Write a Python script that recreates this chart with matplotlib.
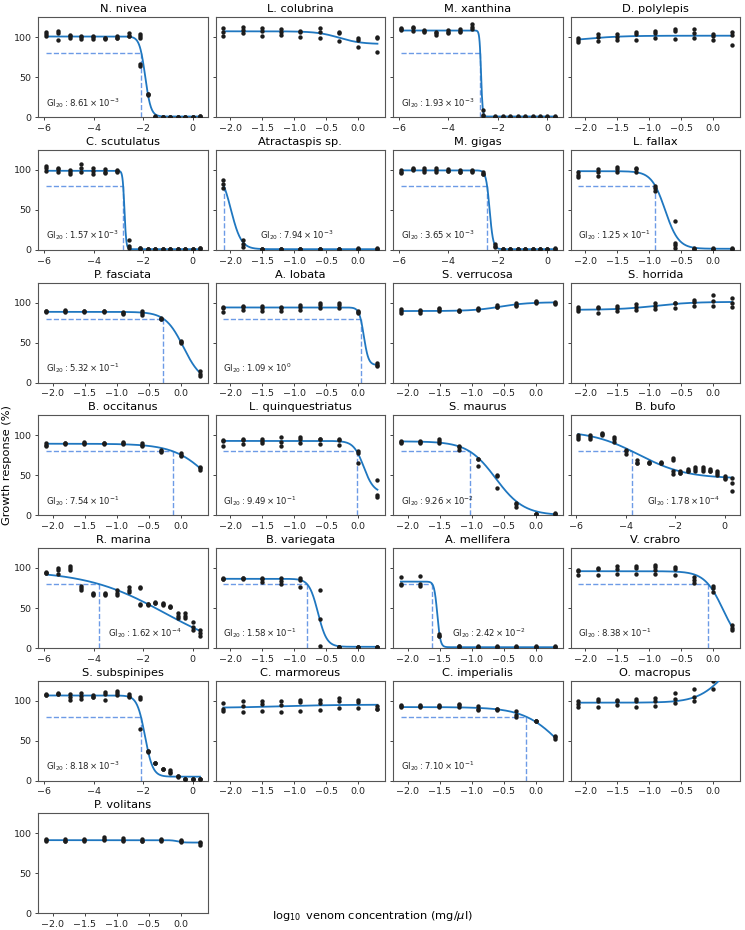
import numpy as np
import matplotlib
matplotlib.use("Agg")
import matplotlib.pyplot as plt
from matplotlib.ticker import MultipleLocator

# ---------------- data ----------------
LONG_X = [-5.923, -5.446, -4.969, -4.492, -4.015, -3.538, -3.061, -2.584,
          -2.107, -1.806, -1.505, -1.204, -0.903, -0.602, -0.301, 0.0, 0.301]
SHORT_X = [-2.107, -1.806, -1.505, -1.204, -0.903, -0.602, -0.301, 0.0, 0.301]

species = ["N. nivea", "L. colubrina", "M. xanthina", "D. polylepis",
           "C. scutulatus", "Atractaspis sp.", "M. gigas", "L. fallax",
           "P. fasciata", "A. lobata", "S. verrucosa", "S. horrida",
           "B. occitanus", "L. quinquestriatus", "S. maurus", "B. bufo",
           "R. marina", "B. variegata", "A. mellifera", "V. crabro",
           "S. subspinipes", "C. marmoreus", "C. imperialis", "O. macropus",
           "P. volitans"]

dose_series = ["long", "short", "long", "short",
               "long", "short", "long", "short",
               "short", "short", "short", "short",
               "short", "short", "short", "long",
               "long", "short", "short", "short",
               "long", "short", "short", "short",
               "short"]

nivea_y = [[106, 104, 102], [108, 105, 96], [103, 101, 99], [101, 100, 98], [102, 100, 98],
           [99, 99, 98], [101, 99, 99], [105, 102, 102], [104, 102, 99, 66, 64], [29, 28, 29],
           [1.5, 1, 1], [1, 1, 1], [1, 1, 1], [1, 1, 1], [1, 1, 1], [1, 1, 1], [2, 1.5, 1]]
colubrina_y = [[112, 106, 101], [113, 109, 105], [112, 108, 102], [110, 107, 103], [108, 107, 100],
               [111, 107, 99], [107, 105, 95], [99, 97, 87.5], [100, 99, 82]]
xanthina_y = [[111, 110, 109], [113, 111, 108], [109, 108, 106], [107, 105, 103], [109, 107, 105],
              [110, 108, 106], [116, 113, 110], [9, 3, 2], [1.5, 1, 1], [1.5, 1, 1], [1.5, 1, 1],
              [1.5, 1, 1], [1.5, 1, 1], [1.5, 1, 1], [1.5, 1, 1], [1.5, 1, 1], [1.5, 1, 1]]
polylepis_y = [[99.5, 96.5, 93.5], [104, 100, 95], [104.5, 100, 96], [106, 104, 96], [108, 105, 99],
               [110, 108, 98], [110, 105, 99], [104, 101, 97], [106, 103, 90]]
scutulatus_y = [[105, 103, 99], [103, 101, 98], [100, 98, 95], [107, 102, 97], [102, 99, 95],
                [101, 98, 96], [100, 99, 98], [12, 5, 3], [2, 2, 1], [1.5, 1.5, 1], [1.5, 1.5, 1],
                [1.5, 1.5, 1], [1.5, 1.5, 1], [1.5, 1.5, 1], [1.5, 1.5, 1], [1.5, 1.5, 1], [2, 2, 1.5]]
atractaspis_y = [[87.5, 83, 77], [12.5, 8, 4], [1.5, 1.5, 1], [1.5, 1.5, 1], [1.5, 1.5, 1],
                 [1.5, 1.5, 1], [1.5, 1.5, 1], [2, 1.5, 1], [2, 1.5, 1]]
gigas_y = [[100, 98, 96], [102, 101, 100], [102, 100, 98], [103, 100, 97], [101, 99, 99],
           [100, 98, 97], [100, 99, 98], [97, 95, 95], [8, 5, 4], [1.5, 1.5, 1], [1.5, 1.5, 1],
           [1.5, 1.5, 1], [1.5, 1.5, 1], [1.5, 1.5, 1], [1.5, 1.5, 1], [1.5, 1.5, 1], [2, 1.5, 1]]
fallax_y = [[97, 94, 91], [101, 97, 93], [104, 101, 97], [103, 101, 97], [80, 77, 74],
            [36, 9, 6, 3], [2, 1.5, 1.5], [2, 1.5, 1.5], [2, 1.5, 1.5]]
fasciata_y = [[90, 89, 88], [91, 90, 88], [90, 89, 88], [90, 89, 88], [88, 87, 86],
              [90, 87, 85], [81, 80, 79], [52, 51, 50], [14, 11, 8]]
lobata_y = [[94, 93, 88], [96, 95, 91], [96, 93, 90], [95, 93, 89], [97, 95, 91],
            [99, 97, 93], [100, 97, 93], [89, 88, 87], [24, 22, 21]]
verrucosa_y = [[92, 90, 87.5], [91, 89, 87.5], [93, 92, 90], [91, 90, 89.5], [93, 92, 91],
               [97, 95, 94], [99, 97, 96], [102, 101, 100], [101, 100, 98]]
horrida_y = [[94, 92, 89], [94, 93, 87.5], [96, 93, 90], [98, 95, 91], [99, 96, 92],
             [100, 99, 93], [103, 101, 96], [110, 102.5, 96], [106, 99, 94]]
occitanus_y = [[90, 88, 87], [91, 90, 89], [92, 90, 89], [91, 90, 89], [92, 90, 89],
               [90, 88, 87], [82, 80, 79], [77.5, 76, 74], [61, 59, 57]]
quinquestriatus_y = [[94, 93, 87], [95, 94, 89], [96, 93, 90], [98, 92, 87], [97.5, 96, 90],
                     [96, 95, 89], [95, 94, 88], [80, 78, 65], [44, 25, 22.5]]
maurus_y = [[93, 92, 91], [93, 92, 91], [95, 93, 90], [87, 85, 82], [71, 70, 62],
            [50, 49, 34], [16, 14, 11], [2, 1.5, 1.5], [2.5, 2, 1.5]]
bufo_y = [[100, 98, 95], [101, 98, 96], [103, 102, 101], [98, 95, 92], [82, 80, 77],
          [69, 66, 65], [67, 66, 65], [67, 66, 66], [72, 69, 55, 52], [55, 53, 52.5],
          [57.5, 56, 55], [60, 58, 55.5], [60, 57.5, 55], [57.5, 56, 55], [55, 52.5, 50],
          [49, 47, 46], [47, 40, 30]]
marina_y = [[95, 94, 94], [100, 98, 92], [103, 100, 97], [78, 75, 72], [69, 67, 66],
            [69, 67, 66], [72, 69, 66], [76, 73, 70], [76, 75, 55, 54], [55, 55, 54],
            [57, 56, 56], [56, 55, 54], [52, 51, 51], [44, 40, 37.5], [44, 40, 37.5],
            [33, 26, 22], [23, 19, 15.5]]
variegata_y = [[87, 86, 86], [87, 87, 86], [87, 86, 83], [88, 84, 80], [88, 85, 76],
               [72, 36, 3], [1.7, 1.5, 1.5], [1.7, 1.5, 1.5], [1.7, 1.5, 1.5]]
mellifera_y = [[89, 80, 79], [90, 80, 78], [17, 15, 15], [2.5, 2, 1.5], [2, 1.5, 1.5],
               [2, 1.5, 1.5], [2, 1.5, 1.5], [2, 1.5, 1.5], [2, 1.5, 1.5]]
crabro_y = [[97.5, 96, 91], [100, 99, 91], [102, 99, 93], [103, 100, 92.5], [104, 101, 98, 92.5],
            [101, 99, 91], [89, 85, 81], [77, 74.5, 70], [29, 25, 23]]
subspinipes_y = [[108, 107, 107], [110, 108, 108], [108, 104, 101], [109, 106, 102.5],
                 [107, 105, 104], [111, 108, 101], [112, 110, 107], [108, 106, 105],
                 [104, 102, 64], [37, 37, 36], [22.5, 22, 22], [15, 15, 14], [13, 11, 10],
                 [6, 5.5, 5], [2, 2, 1.5], [2, 1.5, 1.5], [2.5, 2, 1.5]]
marmoreus_y = [[97.5, 90, 87.5], [99.5, 93, 86], [99.5, 96, 87.5], [99.5, 94, 86], [101, 98, 87.5],
               [101, 97.5, 88], [103, 99.5, 91], [101, 98, 91], [93, 90, 89]]
imperialis_y = [[94, 93, 92], [94, 93, 92], [94, 93, 92], [96, 94, 92], [93, 90, 88],
                [90, 89, 88], [87, 82, 79], [75, 74.5, 74], [56, 54, 52]]
macropus_y = [[99, 96, 92.5], [102, 99, 92], [101, 99, 94], [102, 99, 92.5], [103, 100, 93],
              [109, 102, 97], [115, 105, 100], [124, 114, 132], [150, 140, 135]]
volitans_y = [[93, 92, 91], [93, 91, 90], [93, 92, 91], [95, 93, 92], [94, 92, 90],
              [92.5, 91, 90], [93, 92, 91], [92, 90, 89], [89, 88, 86]]

# fitted dose-response parameters (left plateau, right plateau, hill slope)
curve_top = [101, 107.5, 108.5, 94, 99, 100, 99.5, 98.5, 88.5, 94, 89.5, 91, 89.5, 93,
             92.5, 106, 97, 86.5, 83, 96, 106.5, 91, 92, 97.5, 91.5]
curve_bottom = [1, 91.5, 1, 102, 1, 1, 1, 1.5, 0, 22, 100.5, 101, 0, 28, 0, 46, -10,
                1.5, 1, 0, 5, 95, 0, 170, 88.5]
curve_hill = [3.8, 2.5, 14, 1.5, 12, 5.4, 6.0, 4.1, 3.07, 12, 2, 1.5, 1.51, 5.5, 1.97,
              0.45, 0.27, 6.27, 18, 3.0, 2.74, 1, 1.49, 2, 10]
# GI20 (mg/ul); None where not reached
gi20 = [8.61e-3, None, 1.93e-3, None, 1.57e-3, 7.94e-3, 3.65e-3, 1.25e-1, 5.32e-1, 1.09,
        None, None, 7.54e-1, 9.49e-1, 9.26e-2, 1.78e-4, 1.62e-4, 1.58e-1, 2.42e-2, 8.38e-1,
        8.18e-3, None, 7.10e-1, None, None]
# midpoint (log10) for curves without GI20
curve_x50 = [None, -0.3, None, -2.0, None, None, None, None, None, None, -0.55, -0.9,
             None, None, None, None, None, None, None, None, None, -1.2, None, 0.2, -0.05]
gi_label_x = [0.044, 0, 0.044, 0, 0.044, 0.26, 0.044, 0.044, 0.044, 0.044, 0, 0,
              0.044, 0.044, 0.044, 0.45, 0.41, 0.044, 0.35, 0.044, 0.044, 0, 0.044, 0, 0]

responses = [nivea_y, colubrina_y, xanthina_y, polylepis_y, scutulatus_y, atractaspis_y,
             gigas_y, fallax_y, fasciata_y, lobata_y, verrucosa_y, horrida_y, occitanus_y,
             quinquestriatus_y, maurus_y, bufo_y, marina_y, variegata_y, mellifera_y,
             crabro_y, subspinipes_y, marmoreus_y, imperialis_y, macropus_y, volitans_y]

GI_LEVEL = 80

# ---------------- plotting ----------------
CURVE_C = "#1f77c0"
DASH_C = "#6d9be6"
DOT_C = "#1c1c1c"

fig, axes = plt.subplots(7, 4, figsize=(7.45, 9.3), dpi=100, sharey=True)
fig.subplots_adjust(left=0.0514, right=0.9933, top=0.9814, bottom=0.0179,
                    wspace=0.0474, hspace=0.3267)
flat = axes.ravel()


def logistic(x, top, bottom, x50, h):
    return bottom + (top - bottom) / (1.0 + 10.0 ** ((x - x50) * h))


def gi_text(v):
    e = int(np.floor(np.log10(v) + 1e-9))
    m = v / 10.0 ** e
    return r"$\mathrm{GI}_{20}: %.2f \times 10^{%d}$" % (m, e)


for i, name in enumerate(species):
    ax = flat[i]
    long_axis = dose_series[i] == "long"
    xs = LONG_X if long_axis else SHORT_X
    pts_x, pts_y = [], []
    for xv, reps in zip(xs, responses[i]):
        for r in reps:
            pts_x.append(xv)
            pts_y.append(r)
    t, b, h = curve_top[i], curve_bottom[i], curve_hill[i]
    if gi20[i] is not None:
        xg = np.log10(gi20[i])
        x50 = xg - np.log10((t - b) / (GI_LEVEL - b) - 1.0) / h
    else:
        x50 = curve_x50[i]
    xx = np.linspace(min(xs), max(xs), 400)
    ax.plot(xx, logistic(xx, t, b, x50, h), color=CURVE_C, lw=1.3, zorder=3)
    ax.scatter(pts_x, pts_y, s=10, color=DOT_C, zorder=4, linewidths=0)
    if gi20[i] is not None:
        ax.plot([min(xs), xg], [GI_LEVEL, GI_LEVEL], ls=(0, (3.7, 1.6)), color=DASH_C,
                lw=1.0, zorder=2)
        ax.plot([xg, xg], [0, GI_LEVEL], ls=(0, (3.7, 1.6)), color=DASH_C, lw=1.0, zorder=2)
        ax.text(gi_label_x[i], 0.145, gi_text(gi20[i]), transform=ax.transAxes,
                fontsize=6.1, ha="left", va="center", color="#222222")
    ax.xaxis.set_major_locator(MultipleLocator(2.0 if long_axis else 0.5))
    ax.set_title(name, fontsize=8.2, pad=3.5)
    ax.set_ylim(0, 125)
    ax.set_yticks([0, 50, 100])
    ax.tick_params(labelsize=6.8, length=2.5, width=0.6, pad=2.4, colors="#222222")
    for sp in ax.spines.values():
        sp.set_color("#555555")
        sp.set_linewidth(0.8)

for j in range(len(species), len(flat)):
    flat[j].remove()

fig.text(0.5, 0.015, r"$\log_{10}$ venom concentration (mg/$\mu$l)", ha="center",
         va="center", fontsize=8.2)
fig.text(0.0094, 0.5, "Growth response (%)", rotation=90, ha="center", va="center",
         fontsize=8.2)

fig.savefig("out.png", dpi=100)
